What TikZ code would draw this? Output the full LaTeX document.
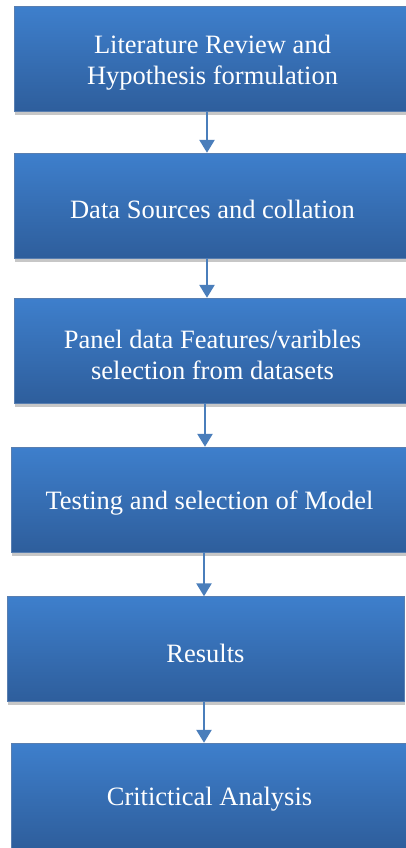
\documentclass[tikz,border=0pt]{standalone}
\usepackage{fontspec}
\setmainfont{Liberation Serif}
\usepackage{tikz}
\usetikzlibrary{positioning,shadows,arrows.meta,calc}
\definecolor{boxtop}{RGB}{62,127,204}
\definecolor{boxbottom}{RGB}{46,94,156}
\definecolor{arrowblue}{RGB}{74,126,187}
\tikzset{
	stepbox/.style={rectangle, inner sep=0pt, minimum width=397pt, minimum height=105pt,
		top color=boxtop, bottom color=boxbottom, draw=boxbottom!80!white, line width=0.4pt,
		drop shadow={shadow xshift=1pt, shadow yshift=-3.5pt, fill=black, opacity=0.22}},
	steptext/.style={inner sep=0pt, text=white, align=center, font=\fontsize{26.5}{31}\selectfont},
	flowarrow/.style={draw=arrowblue, line width=2.5pt, -{Triangle[width=15pt,length=13pt]}}
}
\newcommand{\stepNode}[4]{\node[stepbox] (#1) at (#2,#3) {};
	\node[steptext] (#1-text) at ([yshift=-4pt]#1.center) {#4};}
\newcommand{\flowArrow}[3]{\draw[flowarrow] ([xshift=#3]#1.south) -- ([xshift=#3]#1.south |- #2.north);}

\begin{document}
\begin{tikzpicture}[x=1pt, y=-1pt]
	\useasboundingbox (0,0) rectangle (406,848);
	\clip (0,0) rectangle (406,848);
	\fill[white] (0,0) rectangle (406,848);

	% the six stages, top to bottom
	\stepNode{review}{212.5}{59}{Literature Review and\\Hypothesis formulation}
	\stepNode{sources}{212.5}{205.5}{Data Sources and collation}
	\stepNode{panel}{212.5}{350.5}{Panel data Features/varibles\\selection from datasets}
	\stepNode{testing}{209.5}{499.5}{Testing and selection of Model}
	\stepNode{results}{205.5}{649}{Results}
	\stepNode{analysis}{209.5}{795.5}{Critictical Analysis}

	% connectors between stages
	\flowArrow{review}{sources}{-5.5pt}
	\flowArrow{sources}{panel}{-5.5pt}
	\flowArrow{panel}{testing}{-7.5pt}
	\flowArrow{testing}{results}{-5.5pt}
	\flowArrow{results}{analysis}{-1.5pt}
\end{tikzpicture}
\end{document}
